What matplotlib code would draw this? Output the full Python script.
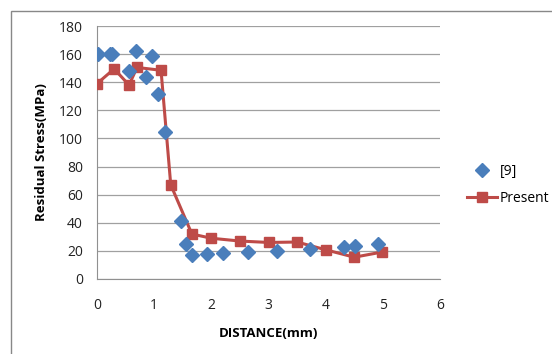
import matplotlib

matplotlib.use("Agg")
import matplotlib.pyplot as plt
from matplotlib.patches import Rectangle

# reference [9] measurements
ref_x = [0.01, 0.22, 0.26, 0.56, 0.69, 0.86, 0.96, 1.07, 1.19, 1.47, 1.56, 1.67,
         1.92, 2.20, 2.65, 3.14, 3.72, 4.32, 4.51, 4.92]
ref_y = [160, 160, 160, 148, 162, 144, 159, 131.5, 104.5, 41, 25, 17,
         17.5, 18.5, 19, 20, 21.5, 22.5, 23.5, 25]

# present model
pres_x = [0.0, 0.30, 0.56, 0.70, 1.12, 1.29, 1.66, 2.0, 2.5, 3.0, 3.5, 4.0, 4.5, 4.99]
pres_y = [139, 149.5, 138, 150.5, 148.5, 67, 32, 29, 27, 26, 26.3, 20.8, 15.5, 19.2]

W, H = 552, 354
plt.rcParams["font.family"] = ["Open Sans", "DejaVu Sans"]
fig = plt.figure(figsize=(W / 100, H / 100), dpi=100)
ax = fig.add_axes([97 / W, 1 - 279 / H, (440 - 97) / W, (279 - 26) / H])

ax.plot(pres_x, pres_y, color="#BE4B48", lw=2.2, marker="s", ms=7.5,
        mec="#BE4B48", mfc="#BE4B48", label="Present", zorder=3)
ax.plot(ref_x, ref_y, ls="none", marker="D", ms=6.8, color="#4A7EBB",
        label="[9]", zorder=4)

ax.set_xlim(0, 6)
ax.set_ylim(0, 180)
ax.set_xticks(range(0, 7))
ax.set_yticks(range(0, 181, 20))
ax.yaxis.grid(True, color="#A0A0A0", lw=0.9)
ax.set_axisbelow(True)
for s in ("top", "right"):
    ax.spines[s].set_visible(False)
for s in ("left", "bottom"):
    ax.spines[s].set_color("#909090")
ax.tick_params(length=0, labelsize=10, colors="#222222")
ax.tick_params(axis="x", pad=14)
ax.tick_params(axis="y", pad=10)

ax.set_xlabel("DISTANCE(mm)", fontsize=9.5, fontweight="bold", labelpad=10)
ax.set_ylabel("Residual Stress(MPa)", fontsize=9.5, fontweight="bold", labelpad=8)

handles, labels = ax.get_legend_handles_labels()
fig.legend(handles[::-1], labels[::-1], loc="center left",
           bbox_to_anchor=(461 / W, 1 - 185 / H), frameon=False, fontsize=10,
           handlelength=2.2, labelspacing=0.85, handletextpad=0.2,
           borderaxespad=0)

fig.patches.append(Rectangle((11 / W, -0.1), 1.2, 1 - 11 / H + 0.1,
                             transform=fig.transFigure, fill=False,
                             ec="#888888", lw=1))

fig.savefig("out.png", dpi=100)
